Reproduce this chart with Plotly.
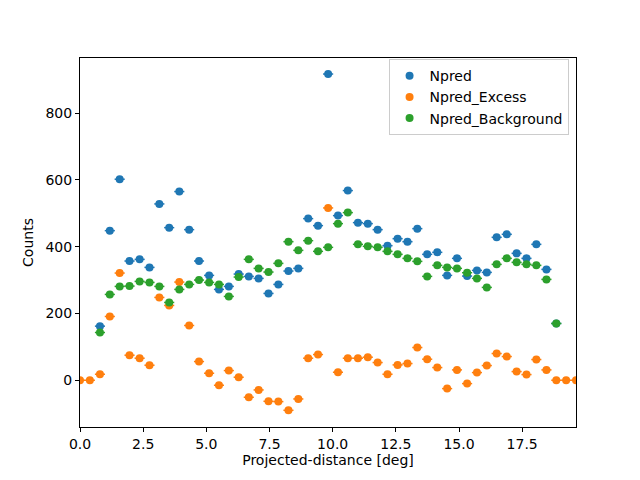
import plotly.graph_objects as go

distance = [0.0, 0.39, 0.79, 1.18, 1.57, 1.96, 2.36, 2.75, 3.14, 3.53, 3.93, 4.32, 4.71,
            5.11, 5.50, 5.89, 6.28, 6.68, 7.07, 7.46, 7.85, 8.25, 8.64, 9.03, 9.42, 9.82,
            10.21, 10.60, 11.00, 11.39, 11.78, 12.17, 12.57, 12.96, 13.35, 13.74, 14.14,
            14.53, 14.92, 15.32, 15.71, 16.10, 16.49, 16.89, 17.28, 17.67, 18.06, 18.46,
            18.85, 19.24, 19.63]

npred = [None, None, 162, 448, 602, 357, 362, 338, 528, 457, 565, 451, 357, 314, 272, 281,
         318, 311, 305, 260, 287, 327, 335, 484, 463, 917, 493, 568, 472, 469, 451, 403,
         424, 415, 454, 377, 383, 314, 365, 312, 329, 323, 428, 437, 380, 365, 407, 332,
         170, None, None]

npred_excess = [0, 0, 18, 191, 321, 75, 66, 45, 248, 224, 294, 164, 56, 21, -15, 29, 9,
                -51, -29, -63, -64, -90, -56, 66, 77, 516, 24, 66, 66, 69, 53, 18, 46, 50,
                98, 63, 38, -25, 31, -10, 23, 44, 80, 71, 26, 17, 62, 31, 0, 0, 0]

npred_background = [None, None, 143, 257, 281, 282, 296, 293, 281, 233, 272, 287, 300, 293,
                    287, 251, 309, 362, 335, 324, 350, 415, 389, 418, 386, 398, 469, 502,
                    407, 401, 398, 386, 377, 365, 356, 311, 344, 338, 335, 322, 305, 278,
                    347, 365, 353, 347, 344, 302, 170, None, None]

half_width = [0.2] * len(distance)

series = [
    ("Npred", npred, "#1f77b4"),
    ("Npred_Excess", npred_excess, "#ff7f0e"),
    ("Npred_Background", npred_background, "#2ca02c"),
]

fig = go.Figure()
for name, vals, color in series:
    fig.add_trace(go.Scatter(
        x=distance, y=vals, name=name, mode="markers",
        marker=dict(color=color, size=8),
        error_x=dict(type="data", array=half_width, color=color, thickness=1.5, width=0),
        cliponaxis=True,
    ))

axis_common = dict(
    showline=True, linecolor="black", linewidth=1, mirror=True,
    ticks="outside", ticklen=4, tickcolor="black", showgrid=False, zeroline=False,
    tickfont=dict(family="DejaVu Sans", size=14, color="black"),
)

fig.update_layout(
    width=640, height=480,
    margin=dict(l=72, r=72, t=50, b=61, autoexpand=False),
    paper_bgcolor="white", plot_bgcolor="white",
    font=dict(family="DejaVu Sans", size=14, color="black"),
    xaxis=dict(range=[0, 19.63], tickvals=[0, 2.5, 5, 7.5, 10, 12.5, 15, 17.5],
               tickformat=".1f",
               title=dict(text="Projected-distance [deg]", font=dict(size=14), standoff=4),
               **axis_common),
    yaxis=dict(range=[-140, 965], tickvals=[0, 200, 400, 600, 800],
               title=dict(text="Counts", font=dict(size=14), standoff=8),
               **axis_common),
    legend=dict(x=0.985, y=0.997, xanchor="right", yanchor="top",
                bordercolor="#cccccc", borderwidth=1, bgcolor="rgba(255,255,255,0.8)",
                font=dict(size=14), tracegroupgap=0, itemwidth=30),
    showlegend=True,
)

fig.write_html("out.html")
